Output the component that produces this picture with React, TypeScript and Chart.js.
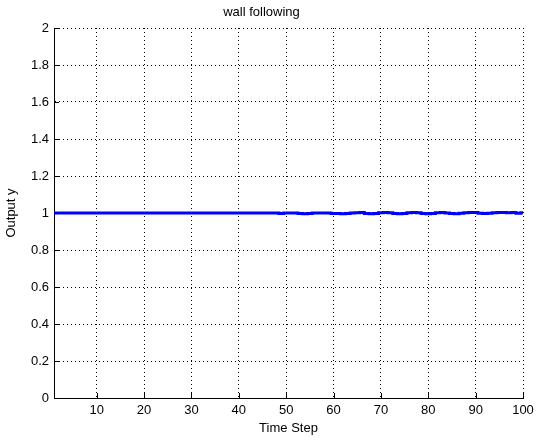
import { useEffect, useRef } from 'react';
import { Chart, registerables } from 'chart.js';

Chart.register(...registerables);

const timeSteps = [
  1, 2, 3, 4, 5, 6, 7, 8, 9, 10, 11, 12, 13, 14, 15, 16, 17, 18, 19, 20,
  21, 22, 23, 24, 25, 26, 27, 28, 29, 30, 31, 32, 33, 34, 35, 36, 37, 38, 39, 40,
  41, 42, 43, 44, 45, 46, 47, 48, 49, 50, 51, 52, 53, 54, 55, 56, 57, 58, 59, 60,
  61, 62, 63, 64, 65, 66, 67, 68, 69, 70, 71, 72, 73, 74, 75, 76, 77, 78, 79, 80,
  81, 82, 83, 84, 85, 86, 87, 88, 89, 90, 91, 92, 93, 94, 95, 96, 97, 98, 99, 100,
];

const outputY = [
  1, 1, 1, 1, 1, 1, 1, 1, 1, 1, 1, 1, 1, 1, 1, 1, 1, 1, 1, 1,
  1, 1, 1, 1, 1, 1, 1, 1, 1, 1, 1, 1, 1, 1, 1, 1, 1, 1, 1, 1,
  1, 1, 1, 1, 1, 1, 1, 1, 0.997, 1, 1, 1, 0.997, 0.996, 0.997, 1, 1, 1, 1, 0.997,
  0.997, 0.996, 0.997, 1, 1.002, 1.003, 0.997, 0.996, 0.997, 1.002, 1.003, 1.002, 0.997, 0.996, 0.997, 1.002, 1.003, 1.002, 0.997, 0.996,
  0.997, 1.002, 1.003, 1.0, 0.997, 0.996, 0.998, 1.002, 1.003, 1.003, 0.998, 0.997, 0.998, 1.002, 1.003, 1.003, 1.002, 1.003, 0.998, 1.002,
];

const xTicks = [10, 20, 30, 40, 50, 60, 70, 80, 90, 100];
const yTicks = [0, 0.2, 0.4, 0.6, 0.8, 1, 1.2, 1.4, 1.6, 1.8, 2];

const chartTitle = 'wall following';
const xTitle = 'Time Step';
const yTitle = 'Output y';

const FONT = 'Liberation Sans, Arial, Helvetica, sans-serif';

const innerTicks = {
  id: 'innerTicks',
  afterDraw(chart: any) {
    const { ctx, chartArea } = chart;
    const xs = chart.scales.x;
    const ys = chart.scales.y;
    const len = 5;
    ctx.save();
    ctx.strokeStyle = '#000';
    ctx.lineWidth = 1;
    ctx.setLineDash([]);
    ctx.beginPath();
    xTicks.forEach((t) => {
      const px = Math.round(xs.getPixelForValue(t)) + 0.5;
      ctx.moveTo(px, chartArea.bottom);
      ctx.lineTo(px, chartArea.bottom - len);
    });
    yTicks.forEach((t) => {
      const py = Math.round(ys.getPixelForValue(t)) + 0.5;
      ctx.moveTo(chartArea.left, py);
      ctx.lineTo(chartArea.left + len, py);
    });
    ctx.stroke();
    ctx.restore();
  },
};

export default function App() {
  const canvasRef = useRef<HTMLCanvasElement | null>(null);

  useEffect(() => {
    const canvas = canvasRef.current;
    if (!canvas) return;
    const points = timeSteps.map((t, i) => ({ x: t, y: outputY[i] }));
    const chart = new Chart(canvas, {
      type: 'line',
      data: {
        datasets: [
          {
            data: points,
            borderColor: '#0000FF',
            backgroundColor: '#0000FF',
            borderWidth: 3,
            pointRadius: 0,
            tension: 0,
            stepped: 'middle',
            fill: false,
          },
        ],
      },
      options: {
        animation: false,
        responsive: false,
        devicePixelRatio: 1,
        layout: { padding: { top: 0, right: 13, left: 0, bottom: 0 } },
        plugins: {
          legend: { display: false },
          tooltip: { enabled: false },
          title: {
            display: true,
            text: chartTitle,
            color: '#000',
            font: { family: FONT, size: 13, weight: 'normal' },
            padding: { top: 5, bottom: 7.4 },
          },
        },
        scales: {
          x: {
            type: 'linear',
            min: 1,
            max: 100,
            afterBuildTicks: (scale: any) => {
              scale.ticks = xTicks.map((v) => ({ value: v }));
            },
            afterFit: (scale: any) => {
              scale.height = 46;
              scale.paddingLeft = 0;
              scale.paddingRight = 0;
            },
            ticks: {
              color: '#000',
              font: { family: FONT, size: 13 },
              padding: 5,
              maxRotation: 0,
              autoSkip: false,
            },
            grid: { color: '#000', lineWidth: 1, drawTicks: false },
            border: { display: true, color: '#000', width: 1, dash: [1, 3] },
            title: {
              display: true,
              text: xTitle,
              color: '#000',
              font: { family: FONT, size: 13 },
              padding: { top: 8, bottom: 8 },
            },
          },
          y: {
            type: 'linear',
            min: 0,
            max: 2,
            afterBuildTicks: (scale: any) => {
              scale.ticks = yTicks.map((v) => ({ value: v }));
            },
            afterFit: (scale: any) => {
              scale.width = 54;
            },
            ticks: {
              color: '#000',
              font: { family: FONT, size: 13 },
              padding: 5,
              autoSkip: false,
              callback: (v: any) => String(Math.round(Number(v) * 10) / 10),
            },
            grid: { color: '#000', lineWidth: 1, drawTicks: false },
            border: { display: true, color: '#000', width: 1, dash: [1, 3] },
            title: {
              display: true,
              text: yTitle,
              color: '#000',
              font: { family: FONT, size: 13 },
              padding: { top: 4, bottom: 0 },
            },
          },
        },
      },
      plugins: [innerTicks],
    });
    return () => chart.destroy();
  }, []);

  return (
    <div style={{ position: 'absolute', left: 0, top: 0, width: 536, height: 444, background: '#fff' }}>
      <canvas ref={canvasRef} width={536} height={444} style={{ width: 536, height: 444, display: 'block' }} />
    </div>
  );
}
